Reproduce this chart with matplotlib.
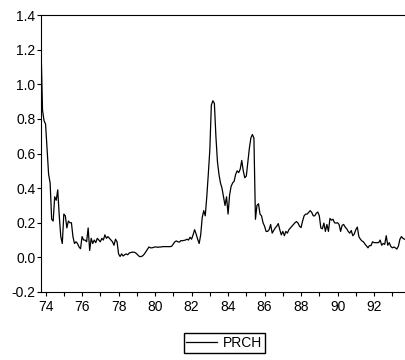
import numpy as np
import matplotlib
matplotlib.use("Agg")
import matplotlib.pyplot as plt
from matplotlib.ticker import MultipleLocator

plt.rcParams["font.family"] = ["Liberation Sans", "DejaVu Sans"]

# monthly series, 1973M10 onwards
start_year = 1973.75
prch = [
    1.22, 0.85, 0.79,                                                       # 1973 Q4
    0.77, 0.62, 0.48, 0.43, 0.22, 0.21, 0.35, 0.33, 0.39, 0.24, 0.12, 0.08,  # 1974
    0.25, 0.24, 0.17, 0.21, 0.20, 0.20, 0.12, 0.08, 0.09, 0.08, 0.06, 0.05,  # 1975
    0.12, 0.10, 0.10, 0.09, 0.17, 0.04, 0.11, 0.08, 0.10, 0.085, 0.11, 0.10,  # 1976
    0.09, 0.11, 0.10, 0.13, 0.11, 0.12, 0.11, 0.10, 0.09, 0.07, 0.105, 0.09,  # 1977
    0.02, 0.005, 0.02, 0.008, 0.015, 0.02, 0.015, 0.025, 0.028, 0.03, 0.03, 0.027,  # 1978
    0.02, 0.01, 0.004, 0.005, 0.01, 0.02, 0.033, 0.045, 0.06, 0.055, 0.055, 0.058,  # 1979
    0.06, 0.06, 0.058, 0.06, 0.06, 0.062, 0.062, 0.062, 0.062, 0.062, 0.062, 0.065,  # 1980
    0.077, 0.09, 0.095, 0.09, 0.088, 0.097, 0.096, 0.098, 0.10, 0.105, 0.10, 0.116,  # 1981
    0.105, 0.13, 0.16, 0.135, 0.105, 0.08, 0.13, 0.23, 0.27, 0.24, 0.35, 0.48,  # 1982
    0.62, 0.88, 0.905, 0.89, 0.70, 0.555, 0.48, 0.43, 0.40, 0.35, 0.30, 0.35,  # 1983
    0.25, 0.36, 0.41, 0.43, 0.44, 0.48, 0.50, 0.49, 0.51, 0.56, 0.50, 0.46,  # 1984
    0.47, 0.55, 0.63, 0.69, 0.71, 0.69, 0.22, 0.30, 0.31, 0.25, 0.24, 0.20,  # 1985
    0.18, 0.15, 0.15, 0.16, 0.19, 0.14, 0.155, 0.17, 0.18, 0.195, 0.16, 0.13,  # 1986
    0.15, 0.125, 0.15, 0.14, 0.16, 0.17, 0.18, 0.19, 0.20, 0.207, 0.198, 0.18,  # 1987
    0.172, 0.21, 0.24, 0.25, 0.25, 0.26, 0.27, 0.26, 0.24, 0.24, 0.255, 0.262,  # 1988
    0.24, 0.17, 0.165, 0.198, 0.15, 0.19, 0.15, 0.225, 0.215, 0.22, 0.20, 0.198,  # 1989
    0.20, 0.19, 0.15, 0.185, 0.19, 0.175, 0.165, 0.15, 0.14, 0.155, 0.125, 0.135,  # 1990
    0.16, 0.175, 0.12, 0.105, 0.095, 0.09, 0.077, 0.066, 0.055, 0.068, 0.068, 0.09,  # 1991
    0.085, 0.085, 0.085, 0.085, 0.10, 0.07, 0.08, 0.075, 0.125, 0.07, 0.085, 0.063,  # 1992
    0.055, 0.06, 0.055, 0.048, 0.065, 0.105, 0.12, 0.11, 0.105,              # 1993
]
t = start_year + np.arange(len(prch)) / 12.0

fig = plt.figure(figsize=(4.06, 3.6), dpi=100)
ax = fig.add_axes([0.101, 0.189, 0.899, 0.769])

ax.plot(t, prch, color="black", linewidth=0.9, label="PRCH")

ax.set_xlim(1973.75, 1993.75)
ax.set_ylim(-0.2, 1.4)
ax.spines["right"].set_visible(False)
for s in ["left", "top", "bottom"]:
    ax.spines[s].set_linewidth(0.8)

ax.xaxis.set_minor_locator(MultipleLocator(1))
ax.set_xticks(np.arange(1974, 1994, 2))
ax.set_xticklabels([str(y % 100) for y in range(1974, 1994, 2)])
ax.set_yticks(np.arange(-0.2, 1.41, 0.2))
ax.set_yticklabels(["-0.2", "0.0", "0.2", "0.4", "0.6", "0.8", "1.0", "1.2", "1.4"])
ax.tick_params(axis="both", which="both", direction="out", length=3, width=0.8,
               labelsize=10, top=False, right=False)
ax.tick_params(axis="y", pad=1)
ax.tick_params(axis="x", pad=3)

fig.legend(loc="center", bbox_to_anchor=(0.552, 0.047), frameon=True, fancybox=False,
           edgecolor="black", framealpha=1, fontsize=10, handlelength=2.2,
           borderpad=0.2, handletextpad=0.4, borderaxespad=0)

fig.savefig("out.png", dpi=100)
